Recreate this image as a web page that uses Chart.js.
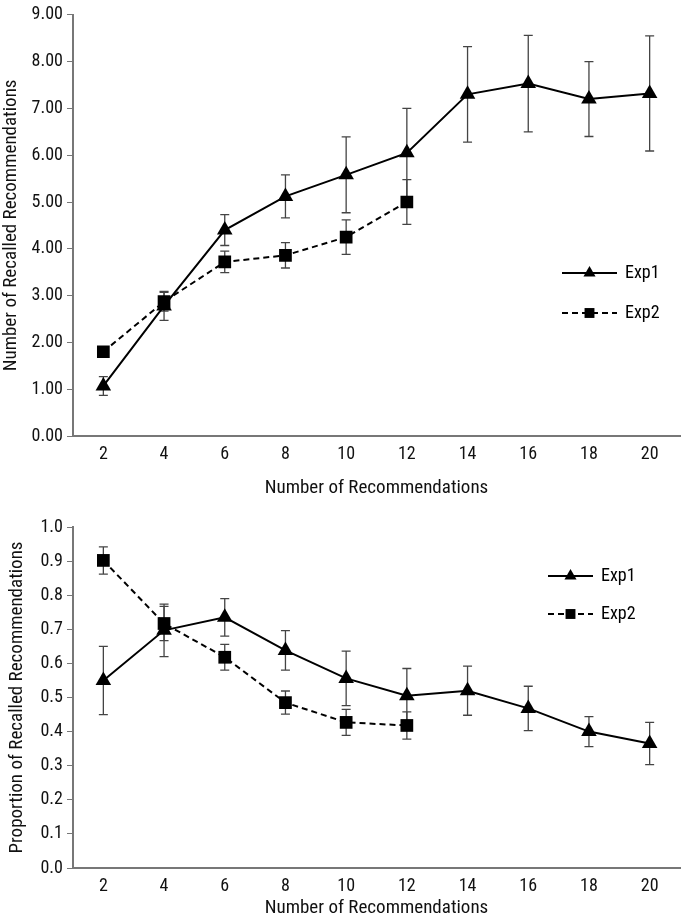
<!DOCTYPE html>
<html lang="en">
    <head>
        <meta charset="UTF-8" />
        <title>Recalled Recommendations</title>
        <script src="https://cdn.jsdelivr.net/npm/chart.js"></script>
        <style>
            body {
                margin: 0;
                background: #fff;
            }
            .wrap {
                position: absolute;
                left: 0;
                width: 689px;
            }
        </style>
    </head>
    <body>
        <div class="wrap" style="top: 0; height: 500px"><canvas id="recallChart" width="689" height="500"></canvas></div>
        <div class="wrap" style="top: 500px; height: 420px"><canvas id="propChart" width="689" height="420"></canvas></div>

        <script>
            const categories = ["2", "4", "6", "8", "10", "12", "14", "16", "18", "20"];

            // top panel: number recalled
            const recallExp1 = [1.07, 2.78, 4.4, 5.12, 5.58, 6.05, 7.3, 7.53, 7.2, 7.32];
            const recallExp1Err = [0.2, 0.31, 0.33, 0.46, 0.81, 0.95, 1.02, 1.03, 0.8, 1.23];
            const recallExp2 = [1.8, 2.87, 3.72, 3.86, 4.25, 5.0];
            const recallExp2Err = [0.06, 0.2, 0.23, 0.27, 0.37, 0.48];

            // bottom panel: proportion recalled
            const propExp1 = [0.55, 0.697, 0.735, 0.638, 0.556, 0.505, 0.52, 0.468, 0.4, 0.365];
            const propExp1Err = [0.1, 0.077, 0.055, 0.058, 0.08, 0.08, 0.072, 0.065, 0.044, 0.062];
            const propExp2 = [0.902, 0.717, 0.618, 0.485, 0.427, 0.418];
            const propExp2Err = [0.04, 0.05, 0.038, 0.034, 0.038, 0.04];

            const FONT = "'Liberation Sans Narrow', 'Arial Narrow', 'Roboto Condensed', sans-serif";
            Chart.defaults.font.family = FONT;
            Chart.defaults.color = "#111";

            // error bars drawn from the y scale, under the markers
            const errorBars = {
                id: "errorBars",
                beforeDatasetsDraw(chart) {
                    const { ctx } = chart;
                    const y = chart.scales.y;
                    ctx.save();
                    ctx.strokeStyle = "#444";
                    ctx.lineWidth = 1.3;
                    chart.data.datasets.forEach((ds, i) => {
                        const meta = chart.getDatasetMeta(i);
                        meta.data.forEach((pt, j) => {
                            const v = ds.data[j];
                            const e = ds.errors[j];
                            if (v == null || e == null) return;
                            const top = y.getPixelForValue(v + e);
                            const bot = y.getPixelForValue(v - e);
                            ctx.beginPath();
                            ctx.moveTo(pt.x, top);
                            ctx.lineTo(pt.x, bot);
                            ctx.moveTo(pt.x - 4.5, top);
                            ctx.lineTo(pt.x + 4.5, top);
                            ctx.moveTo(pt.x - 4.5, bot);
                            ctx.lineTo(pt.x + 4.5, bot);
                            ctx.stroke();
                        });
                    });
                    ctx.restore();
                },
            };

            // legend drawn inside the plot, like the original figure
            const innerLegend = {
                id: "innerLegend",
                afterDraw(chart, args, opts) {
                    const { ctx } = chart;
                    ctx.save();
                    chart.data.datasets.forEach((ds, i) => {
                        const yy = opts.y + i * opts.gap;
                        ctx.strokeStyle = "#000";
                        ctx.lineWidth = 2;
                        ctx.setLineDash(ds.borderDash || []);
                        ctx.beginPath();
                        ctx.moveTo(opts.x, yy);
                        ctx.lineTo(opts.x + opts.len, yy);
                        ctx.stroke();
                        ctx.setLineDash([]);
                        ctx.fillStyle = "#000";
                        Chart.helpers.drawPoint(ctx, { pointStyle: ds.pointStyle, radius: 7, rotation: 0, borderWidth: 0 }, opts.x + opts.len / 2, yy);
                        ctx.font = "18px " + FONT;
                        ctx.textBaseline = "middle";
                        ctx.fillText(ds.label, opts.x + opts.len + 8, yy);
                    });
                    ctx.restore();
                },
            };

            function makeChart(id, exp1, err1, exp2, err2, yOpts, legend, xHeight, padTop) {
                return new Chart(document.getElementById(id), {
                    type: "line",
                    data: {
                        labels: categories,
                        datasets: [
                            {
                                label: "Exp1",
                                data: exp1,
                                errors: err1,
                                borderColor: "#000",
                                backgroundColor: "#000",
                                borderWidth: 2,
                                pointStyle: "triangle",
                                pointRadius: 9,
                                pointBorderWidth: 0,
                            },
                            {
                                label: "Exp2",
                                data: exp2,
                                errors: err2,
                                borderColor: "#000",
                                backgroundColor: "#000",
                                borderWidth: 2,
                                borderDash: [6, 4],
                                pointStyle: "rect",
                                pointRadius: 9,
                                pointBorderWidth: 0,
                            },
                        ],
                    },
                    options: {
                        responsive: false,
                        animation: false,
                        layout: { padding: { top: padTop, right: 0, left: 0, bottom: 0 } },
                        plugins: {
                            legend: { display: false },
                            tooltip: { enabled: false },
                            innerLegend: legend,
                        },
                        scales: {
                            x: {
                                offset: true,
                                grid: { drawOnChartArea: false, drawTicks: false },
                                border: { color: "#777", width: 2 },
                                ticks: { font: { size: 18 }, padding: 8 },
                                title: { display: true, text: "Number of Recommendations", font: { size: 19 }, padding: { top: 0, bottom: yOpts.xTitlePad } },
                                afterFit(s) {
                                    s.height = xHeight;
                                },
                            },
                            y: {
                                min: yOpts.min,
                                max: yOpts.max,
                                grid: { drawOnChartArea: false, tickLength: 6, color: "#777" },
                                border: { color: "#777", width: 2 },
                                ticks: {
                                    stepSize: yOpts.step,
                                    font: { size: 18 },
                                    padding: 4,
                                    callback: (v) => v.toFixed(yOpts.digits),
                                },
                                title: { display: true, text: yOpts.title, font: { size: 19 }, padding: { top: yOpts.titlePad, bottom: 0 } },
                                afterFit(s) {
                                    s.width = 73;
                                },
                            },
                        },
                    },
                    plugins: [errorBars, innerLegend],
                });
            }

            makeChart(
                "recallChart",
                recallExp1,
                recallExp1Err,
                recallExp2,
                recallExp2Err,
                { min: 0, max: 9, step: 1, digits: 2, title: "Number of Recalled Recommendations", titlePad: 0, xTitlePad: 0 },
                { x: 562, y: 273, gap: 40, len: 55 },
                64,
                9
            );

            makeChart(
                "propChart",
                propExp1,
                propExp1Err,
                propExp2,
                propExp2Err,
                { min: 0, max: 1, step: 0.1, digits: 1, title: "Proportion of Recalled Recommendations", titlePad: 6, xTitlePad: 0 },
                { x: 548, y: 76, gap: 38, len: 45 },
                52,
                27
            );
        </script>
    </body>
</html>
